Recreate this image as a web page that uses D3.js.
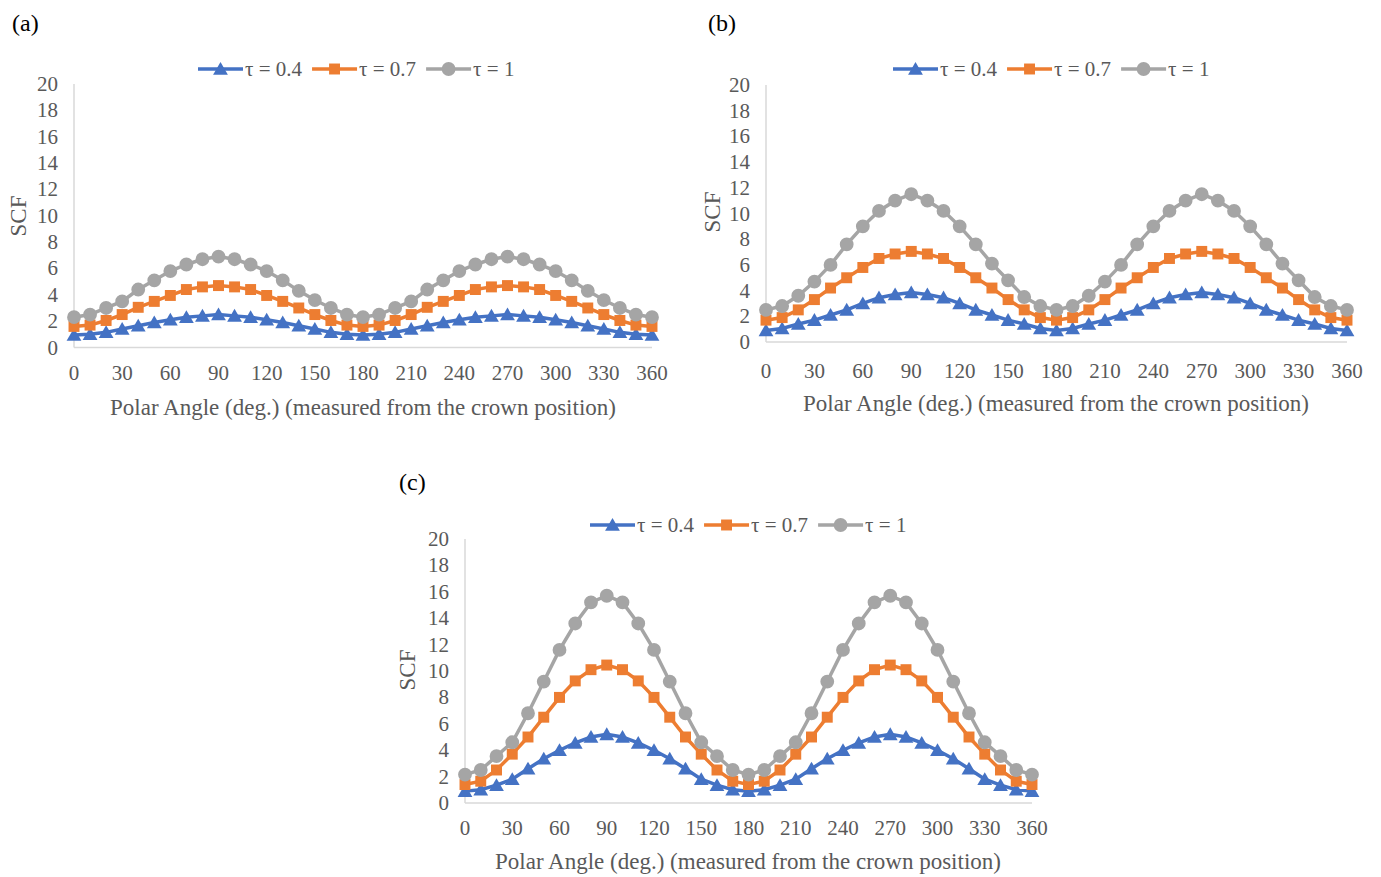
<!DOCTYPE html>
<html>
<head>
<meta charset="utf-8">
<script src="https://cdn.jsdelivr.net/npm/d3@7"></script>
<style>
  body { margin: 0; background: #fff; }
  svg { display: block; font-family: "Liberation Serif", "Times New Roman", serif; }
</style>
</head>
<body>
<svg id="chart" width="1381" height="877"></svg>
<script>
// polar angle, every 10 degrees
const angles = [0,10,20,30,40,50,60,70,80,90,100,110,120,130,140,150,160,170,180,
  190,200,210,220,230,240,250,260,270,280,290,300,310,320,330,340,350,360];
const xTicks = [0,30,60,90,120,150,180,210,240,270,300,330,360];
const yTicks = [0,2,4,6,8,10,12,14,16,18,20];
const seriesNames = ["τ = 0.4", "τ = 0.7", "τ = 1"];

// panel (a)
const scfA04 = [0.95,1.0,1.15,1.4,1.65,1.9,2.1,2.3,2.4,2.5,2.4,2.3,2.1,1.9,1.65,1.4,1.15,1.0,0.95,
  1.0,1.15,1.4,1.65,1.9,2.1,2.3,2.4,2.5,2.4,2.3,2.1,1.9,1.65,1.4,1.15,1.0,0.95];
const scfA07 = [1.6,1.7,2.05,2.5,3.05,3.5,3.95,4.4,4.6,4.7,4.6,4.4,3.95,3.5,3.0,2.5,2.05,1.7,1.6,
  1.7,2.05,2.5,3.05,3.5,3.95,4.4,4.6,4.7,4.6,4.4,3.95,3.5,3.0,2.5,2.05,1.7,1.6];
const scfA10 = [2.3,2.5,3.0,3.5,4.4,5.1,5.8,6.3,6.7,6.9,6.7,6.3,5.8,5.1,4.3,3.6,3.0,2.5,2.3,
  2.5,3.0,3.5,4.4,5.1,5.8,6.3,6.7,6.9,6.7,6.3,5.8,5.1,4.3,3.6,3.0,2.5,2.3];

// panel (b)
const scfB04 = [0.9,1.05,1.4,1.7,2.1,2.5,3.0,3.45,3.7,3.85,3.7,3.45,3.0,2.5,2.1,1.7,1.4,1.05,0.9,
  1.05,1.4,1.7,2.1,2.5,3.0,3.45,3.7,3.85,3.7,3.45,3.0,2.5,2.1,1.7,1.4,1.05,0.9];
const scfB07 = [1.7,1.9,2.5,3.3,4.2,5.0,5.8,6.5,6.85,7.05,6.85,6.5,5.8,5.0,4.2,3.3,2.5,1.9,1.7,
  1.9,2.5,3.3,4.2,5.0,5.8,6.5,6.85,7.05,6.85,6.5,5.8,5.0,4.2,3.3,2.5,1.9,1.7];
const scfB10 = [2.5,2.8,3.6,4.7,6.0,7.6,9.0,10.2,11.0,11.5,11.0,10.2,9.0,7.6,6.1,4.8,3.5,2.8,2.5,
  2.8,3.6,4.7,6.0,7.6,9.0,10.2,11.0,11.5,11.0,10.2,9.0,7.6,6.1,4.8,3.5,2.8,2.5];

// panel (c)
const scfC04 = [0.9,1.0,1.35,1.8,2.6,3.35,4.0,4.55,5.0,5.2,5.0,4.55,4.0,3.35,2.6,1.8,1.35,1.0,0.9,
  1.0,1.35,1.8,2.6,3.35,4.0,4.55,5.0,5.2,5.0,4.55,4.0,3.35,2.6,1.8,1.35,1.0,0.9];
const scfC07 = [1.4,1.65,2.5,3.7,5.0,6.5,8.0,9.25,10.1,10.45,10.1,9.25,8.0,6.5,5.0,3.7,2.5,1.65,1.4,
  1.65,2.5,3.7,5.0,6.5,8.0,9.25,10.1,10.45,10.1,9.25,8.0,6.5,5.0,3.7,2.5,1.65,1.4];
const scfC10 = [2.15,2.5,3.55,4.6,6.8,9.2,11.6,13.6,15.2,15.7,15.2,13.6,11.6,9.2,6.8,4.6,3.55,2.5,2.15,
  2.5,3.55,4.6,6.8,9.2,11.6,13.6,15.2,15.7,15.2,13.6,11.6,9.2,6.8,4.6,3.55,2.5,2.15];

const colors = ["#4472C4", "#ED7D31", "#A5A5A5"];
const symbols = [
  d3.symbol().type(d3.symbolTriangle).size(95),
  d3.symbol().type(d3.symbolSquare).size(120),
  d3.symbol().type(d3.symbolCircle).size(150)
];
const textCol = "#595959";

const svg = d3.select("#chart");

function drawPanel(p, series) {
  const g = svg.append("g");
  const x = d3.scaleLinear().domain([0, 360]).range([p.x0, p.x1]);
  const y = d3.scaleLinear().domain([0, 20]).range([p.yBot, p.yTop]);

  // panel letter
  g.append("text").attr("x", p.labX).attr("y", p.labY)
    .attr("font-size", 24).attr("fill", "#000").text(p.label);

  // axis lines
  g.append("line").attr("x1", x(0)).attr("x2", x(0)).attr("y1", y(20)).attr("y2", y(0))
    .attr("stroke", "#d9d9d9").attr("stroke-width", 1.5);
  g.append("line").attr("x1", x(0)).attr("x2", x(360)).attr("y1", y(0)).attr("y2", y(0))
    .attr("stroke", "#d9d9d9").attr("stroke-width", 1.5);

  // tick labels
  g.append("g").selectAll("text").data(yTicks).join("text")
    .attr("x", x(0) - 16).attr("y", d => y(d) + 7)
    .attr("text-anchor", "end").attr("font-size", 21).attr("fill", textCol)
    .text(d => d);
  g.append("g").selectAll("text").data(xTicks).join("text")
    .attr("x", d => x(d)).attr("y", p.tickY + 7)
    .attr("text-anchor", "middle").attr("font-size", 21).attr("fill", textCol)
    .text(d => d);

  // axis titles
  g.append("text").attr("x", p.titleX).attr("y", p.titleY + 8)
    .attr("text-anchor", "middle").attr("font-size", 23).attr("fill", textCol)
    .text("Polar Angle (deg.) (measured from the crown position)");
  g.append("text").attr("transform", `translate(${p.scfX + 8},${p.scfY}) rotate(-90)`)
    .attr("text-anchor", "middle").attr("font-size", 23).attr("fill", textCol)
    .text("SCF");

  // lines + markers
  const line = d3.line().x((d, i) => x(angles[i])).y(d => y(d));
  series.forEach((vals, k) => {
    g.append("path").datum(vals).attr("d", line)
      .attr("fill", "none").attr("stroke", colors[k]).attr("stroke-width", 3.5);
    g.append("g").selectAll("path").data(vals).join("path")
      .attr("d", symbols[k])
      .attr("transform", (d, i) => `translate(${x(angles[i])},${y(d) + (k === 0 ? 1.5 : 0)})`)
      .attr("fill", colors[k]);
  });

  // legend
  let lx = p.legX;
  seriesNames.forEach((name, k) => {
    g.append("line").attr("x1", lx).attr("x2", lx + 45).attr("y1", p.legY).attr("y2", p.legY)
      .attr("stroke", colors[k]).attr("stroke-width", 3.5);
    g.append("path").attr("d", symbols[k])
      .attr("transform", `translate(${lx + 22.5},${p.legY + (k === 0 ? 1.5 : 0)})`)
      .attr("fill", colors[k]);
    const t = g.append("text").attr("x", lx + 47).attr("y", p.legY + 7)
      .attr("font-size", 21).attr("fill", textCol).text(name);
    lx += 47 + t.node().getComputedTextLength() + 10;
  });
}

drawPanel({label: "(a)", labX: 12, labY: 31, x0: 74, x1: 652, yTop: 84, yBot: 347.5,
  tickY: 373, titleX: 363, titleY: 407, scfX: 18, scfY: 216, legX: 198, legY: 69},
  [scfA04, scfA07, scfA10]);
drawPanel({label: "(b)", labX: 708, labY: 31, x0: 766, x1: 1347, yTop: 85, yBot: 342,
  tickY: 371, titleX: 1056, titleY: 403, scfX: 712, scfY: 212, legX: 893, legY: 69},
  [scfB04, scfB07, scfB10]);
drawPanel({label: "(c)", labX: 399, labY: 490, x0: 465, x1: 1032, yTop: 539, yBot: 803,
  tickY: 828, titleX: 748, titleY: 861, scfX: 407, scfY: 670, legX: 590, legY: 525},
  [scfC04, scfC07, scfC10]);
</script>
</body>
</html>
